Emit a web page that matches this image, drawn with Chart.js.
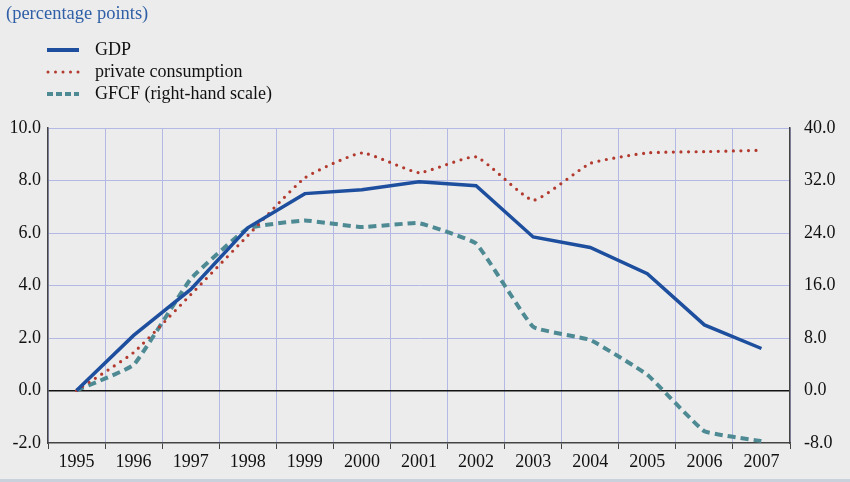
<!DOCTYPE html>
<html>
<head>
<meta charset="utf-8">
<script src="https://cdn.jsdelivr.net/npm/chart.js@4/dist/chart.umd.min.js"></script>
<style>
  html, body { margin: 0; padding: 0; background: #ececec; }
  #wrap { position: relative; width: 850px; height: 482px; overflow: hidden; }
  #wrap canvas { position: absolute; left: 0; top: 0; }
  .txt { position: absolute; font-family: "Liberation Serif", "Times New Roman", serif; font-size: 18px; color: #111; white-space: nowrap; }
  #unit { left: 6px; top: 3px; color: #2f5fa6; font-size: 18.5px; }
  .leg { position: absolute; left: 45px; }
  #bottomline { position: absolute; left: 0; top: 479px; width: 850px; height: 3px; background: #c9d2dc; }
</style>
</head>
<body>
<div id="wrap">
  <canvas id="chart" width="850" height="482"></canvas>
  <div class="txt" id="unit">(percentage points)</div>
  <svg class="leg" style="top:44px" width="36" height="12"><line x1="2" y1="6" x2="34" y2="6" stroke="#1d4f9e" stroke-width="4"/></svg>
  <svg class="leg" style="top:66px" width="36" height="12"><line x1="3" y1="6" x2="34" y2="6" stroke="#b23a2e" stroke-width="3" stroke-linecap="round" stroke-dasharray="0 7.5"/></svg>
  <svg class="leg" style="top:88px" width="36" height="12"><line x1="2" y1="6" x2="34" y2="6" stroke="#4e8a93" stroke-width="4" stroke-dasharray="6 3"/></svg>
  <div class="txt" style="left:95px; top:39px">GDP</div>
  <div class="txt" style="left:95px; top:61px">private consumption</div>
  <div class="txt" style="left:95px; top:83px">GFCF (right-hand scale)</div>
  <div id="bottomline"></div>
</div>
<script>
// years on the x axis
const years = ['1995', '1996', '1997', '1998', '1999', '2000', '2001', '2002', '2003', '2004', '2005', '2006', '2007'];
// left-hand scale (percentage points)
const gdp = [0.0, 2.1, 3.85, 6.2, 7.5, 7.65, 7.95, 7.8, 5.85, 5.45, 4.45, 2.5, 1.6];
const privateConsumption = [0.0, 1.45, 3.65, 5.9, 8.1, 9.05, 8.3, 8.9, 7.25, 8.65, 9.05, 9.1, 9.15];
// right-hand scale
const gfcf = [0.0, 3.9, 17.0, 24.7, 25.9, 24.9, 25.5, 22.4, 9.7, 7.7, 2.4, -6.2, -7.7];

const leftTicks = { min: -2, max: 10, step: 2 };
const rightTicks = { min: -8, max: 40, step: 8 };

const serif = '"Liberation Serif", "Times New Roman", serif';
const gridBlue = '#b3b9e4';

Chart.defaults.font.family = serif;
Chart.defaults.font.size = 18;
Chart.defaults.color = '#111';

const ctx = document.getElementById('chart').getContext('2d');
new Chart(ctx, {
  type: 'line',
  data: {
    labels: years,
    datasets: [
      {
        label: 'GDP',
        data: gdp,
        yAxisID: 'y',
        borderColor: '#1d4f9e',
        borderWidth: 3.5,
        tension: 0,
        pointRadius: 0
      },
      {
        label: 'private consumption',
        data: privateConsumption,
        yAxisID: 'y',
        borderColor: '#b23a2e',
        borderWidth: 3.2,
        borderDash: [0, 7.5],
        borderCapStyle: 'round',
        tension: 0.15,
        pointRadius: 0
      },
      {
        label: 'GFCF (right-hand scale)',
        data: gfcf,
        yAxisID: 'y2',
        borderColor: '#4e8a93',
        borderWidth: 4,
        borderDash: [8, 5],
        tension: 0.1,
        pointRadius: 0
      }
    ]
  },
  options: {
    responsive: false,
    animation: false,
    layout: { padding: { top: 128, left: 0, right: 0, bottom: 0 } },
    plugins: { legend: { display: false }, tooltip: { enabled: false } },
    scales: {
      x: {
        offset: true,
        grid: { offset: true, color: gridBlue, tickColor: '#444', tickLength: 6, lineWidth: 1 },
        border: { color: '#444', width: 1.5 },
        ticks: { padding: 2, maxRotation: 0, autoSkip: false },
        afterFit: (s) => { s.height = 39; }
      },
      y: {
        position: 'left',
        min: leftTicks.min,
        max: leftTicks.max,
        ticks: { stepSize: leftTicks.step, padding: 7, callback: (v) => v.toFixed(1) },
        grid: {
          drawTicks: false,
          color: (c) => c.tick.value === 0 ? '#111' : (c.tick.value === leftTicks.min ? 'rgba(0,0,0,0)' : gridBlue),
          lineWidth: (c) => c.tick.value === 0 ? 1.5 : 1
        },
        border: { color: '#444', width: 1.5 },
        afterFit: (s) => { s.width = 48; }
      },
      y2: {
        position: 'right',
        min: rightTicks.min,
        max: rightTicks.max,
        ticks: { stepSize: rightTicks.step, padding: 14, callback: (v) => v.toFixed(1) },
        grid: { drawOnChartArea: false, drawTicks: false },
        border: { color: '#444', width: 1.5 },
        afterFit: (s) => { s.width = 60; }
      }
    }
  }
});
</script>
</body>
</html>
